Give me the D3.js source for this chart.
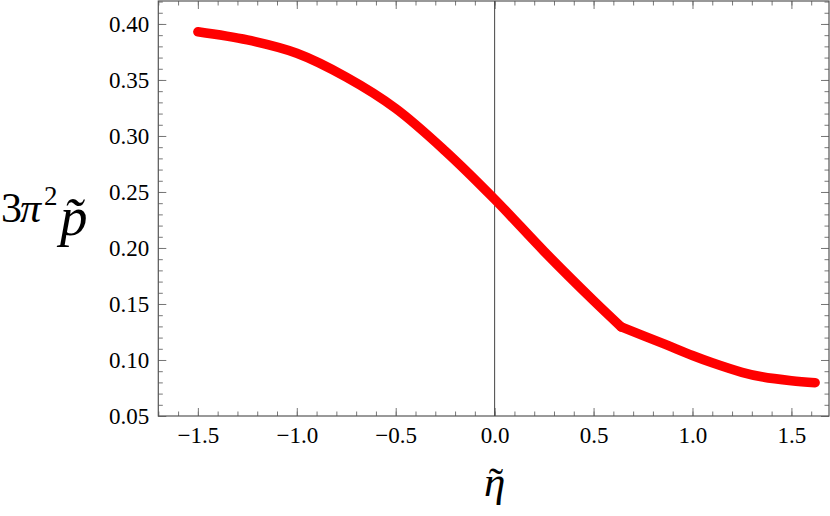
<!DOCTYPE html>
<html lang="en">
<head>
    <meta charset="UTF-8">
    <title>3π² p̃ vs η̃</title>
    <style>
        body { margin: 0; background: #fff; }
        svg text { font-family: "Liberation Serif", "DejaVu Serif", serif; fill: #000; }
        .tick line { stroke: #777; }
        .tick text { font-size: 23px; font-family: "Liberation Serif", serif; }
    </style>
</head>
<body>
    <div id="chart"></div>
    <script src="https://cdn.jsdelivr.net/npm/d3@7"></script>
    <script>
        // curve, split at the kink near eta = 0.64
        const etaLeft = [-1.5, -1.25, -1.0, -0.75, -0.5, -0.25, 0.0, 0.25, 0.5, 0.64];
        const pLeft = [0.393, 0.3857, 0.3738, 0.3525, 0.3245, 0.2866, 0.2435, 0.197, 0.153, 0.1295];
        const etaRight = [0.64, 0.85, 1.0, 1.1, 1.25, 1.35, 1.5, 1.62];
        const pRight = [0.1295, 0.1148, 0.104, 0.0975, 0.089, 0.085, 0.0815, 0.0797];

        const xMajor = [-1.5, -1.0, -0.5, 0.0, 0.5, 1.0, 1.5];
        const yMajor = [0.05, 0.10, 0.15, 0.20, 0.25, 0.30, 0.35, 0.40];
        const xDomain = [-1.7, 1.69];
        const yDomain = [0.05, 0.4205];

        const W = 830, H = 516;
        const frameL = 158.3, frameR = 829, frameT = 1, frameB = 416;

        const svg = d3.select("#chart").append("svg")
            .attr("width", W)
            .attr("height", H);

        const x = d3.scaleLinear().domain(xDomain).range([frameL, frameR]);
        const y = d3.scaleLinear().domain(yDomain).range([frameB, frameT]);

        // minor ticks every 0.1 / 0.01
        const xMinor = d3.range(-17, 17).map(d => d / 10).filter(d => d >= xDomain[0] && d <= xDomain[1]);
        const yMinor = d3.range(5, 43).map(d => d / 100).filter(d => d >= yDomain[0] && d <= yDomain[1]);

        const fmtX = d => d3.format(".1f")(d).replace("-", "\u2212");
        const fmtY = d3.format(".2f");

        function addAxis(axis, tr) {
            const g = svg.append("g").attr("transform", tr).call(axis);
            g.select(".domain").remove();
            return g;
        }

        // bottom / top
        addAxis(d3.axisBottom(x).tickValues(xMinor).tickFormat("").tickSize(-4.5), `translate(0,${frameB})`);
        addAxis(d3.axisBottom(x).tickValues(xMajor).tickFormat(fmtX).tickSize(-8).tickPadding(10.5), `translate(0,${frameB})`);
        addAxis(d3.axisTop(x).tickValues(xMinor).tickFormat("").tickSize(-4.5), `translate(0,${frameT})`);
        addAxis(d3.axisTop(x).tickValues(xMajor).tickFormat("").tickSize(-8), `translate(0,${frameT})`);

        // left / right
        addAxis(d3.axisLeft(y).tickValues(yMinor).tickFormat("").tickSize(-4.5), `translate(${frameL},0)`);
        addAxis(d3.axisLeft(y).tickValues(yMajor).tickFormat(fmtY).tickSize(-8).tickPadding(9), `translate(${frameL},0)`);
        addAxis(d3.axisRight(y).tickValues(yMinor).tickFormat("").tickSize(-4.5), `translate(${frameR},0)`);
        addAxis(d3.axisRight(y).tickValues(yMajor).tickFormat("").tickSize(-8), `translate(${frameR},0)`);

        // frame
        svg.append("rect")
            .attr("x", frameL)
            .attr("y", frameT)
            .attr("width", frameR - frameL)
            .attr("height", frameB - frameT)
            .attr("fill", "none")
            .attr("stroke", "#555")
            .attr("stroke-width", 1.2);

        // vertical line at eta = 0
        svg.append("line")
            .attr("x1", x(0)).attr("x2", x(0))
            .attr("y1", frameT).attr("y2", frameB)
            .attr("stroke", "#444")
            .attr("stroke-width", 1);

        const line = d3.line()
            .x(d => x(d[0]))
            .y(d => y(d[1]))
            .curve(d3.curveCatmullRom.alpha(0.5));

        [[etaLeft, pLeft], [etaRight, pRight]].forEach(([xs, ys]) => {
            svg.append("path")
                .datum(xs.map((v, i) => [v, ys[i]]))
                .attr("d", line)
                .attr("fill", "none")
                .attr("stroke", "#ff0000")
                .attr("stroke-width", 9.5)
                .attr("stroke-linecap", "round")
                .attr("stroke-linejoin", "round");
        });

        // y label: 3π² p̃
        const yl = svg.append("text");
        yl.append("tspan").attr("x", 1).attr("y", 222).style("font-size", "42px").text("3");
        yl.append("tspan").attr("x", 20).attr("y", 222).style("font-size", "42px")
            .style("font-style", "italic").text("\u03c0");
        yl.append("tspan").attr("x", 44).attr("y", 205).style("font-size", "27px").text("2");
        yl.append("tspan").attr("x", 60).attr("y", 235).style("font-size", "55px")
            .style("font-style", "italic").text("p\u0303");

        // x label: η with a tilde on top, one text element
        const xl = svg.append("text")
            .attr("x", x(0) - 10.75)
            .attr("y", 496)
            .style("font-size", "43px");
        xl.append("tspan").style("font-style", "italic").text("\u03b7");
        xl.append("tspan").attr("dx", -16.5).attr("dy", 1).text("\u02dc");
    </script>
</body>
</html>
